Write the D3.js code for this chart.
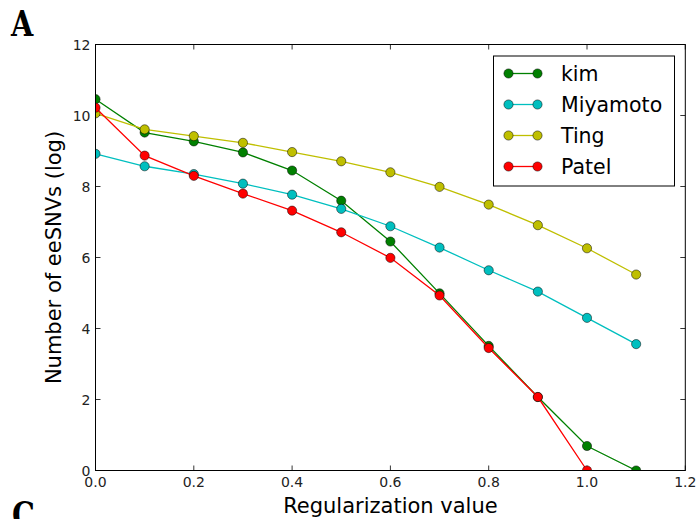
<!DOCTYPE html>
<html><head><meta charset="utf-8">
<script src="https://cdn.jsdelivr.net/npm/d3@7"></script>
<style>body{margin:0;background:#fff;} svg{display:block;}</style>
</head><body>
<script>
const xValues = [0.0,0.1,0.2,0.3,0.4,0.5,0.6,0.7,0.8,0.9,1.0,1.1];
const kim      = [10.46,9.52,9.27,8.96,8.45,7.60,6.45,4.99,3.51,2.07,0.69,0.0];
const miyamoto = [8.92,8.57,8.35,8.08,7.77,7.37,6.88,6.28,5.64,5.04,4.30,3.56];
const ting     = [10.06,9.61,9.42,9.23,8.97,8.71,8.40,7.99,7.49,6.91,6.26,5.52];
const patel    = [10.22,8.87,8.30,7.80,7.32,6.71,5.99,4.93,3.45,2.07,0.0];
const seriesNames = ["kim","Miyamoto","Ting","Patel"];
const seriesColors = ["#008000","#00bfbf","#bfbf00","#ff0000"];
const xTicks = [0.0,0.2,0.4,0.6,0.8,1.0,1.2];
const yTicks = [0,2,4,6,8,10,12];

const W=698,H=519;
const m={l:95.5,t:44.5,r:685.3,b:470.5};
const svg=d3.select("body").append("svg").attr("width",W).attr("height",H);
const x=d3.scaleLinear().domain([0,1.2]).range([m.l,m.r]);
const y=d3.scaleLinear().domain([0,12]).range([m.b,m.t]);
const font="DejaVu Sans";

svg.append("defs").append("clipPath").attr("id","plotclip").append("rect")
  .attr("x",m.l).attr("y",m.t).attr("width",m.r-m.l).attr("height",m.b-m.t);

// ticks (inside, all four sides)
const tl=5;
const g=svg.append("g").attr("stroke","#000").attr("stroke-width",0.8);
xTicks.forEach(v=>{
  g.append("line").attr("x1",x(v)).attr("x2",x(v)).attr("y1",m.b).attr("y2",m.b-tl);
  g.append("line").attr("x1",x(v)).attr("x2",x(v)).attr("y1",m.t).attr("y2",m.t+tl);
});
yTicks.forEach(v=>{
  g.append("line").attr("x1",m.l).attr("x2",m.l+tl).attr("y1",y(v)).attr("y2",y(v));
  g.append("line").attr("x1",m.r).attr("x2",m.r-tl).attr("y1",y(v)).attr("y2",y(v));
});
// tick labels
svg.append("g").selectAll("text").data(xTicks).join("text")
  .attr("x",d=>x(d)).attr("y",m.b+16.5).attr("text-anchor","middle")
  .attr("font-family",font).attr("font-size",14).attr("fill","#222")
  .text(d=>d.toFixed(1));
svg.append("g").selectAll("text").data(yTicks).join("text")
  .attr("x",m.l-5).attr("y",d=>y(d)+5).attr("text-anchor","end")
  .attr("font-family",font).attr("font-size",14).attr("fill","#222")
  .text(d=>d);

// series
const allSeries=[kim,miyamoto,ting,patel];
const line=d3.line().x((d,i)=>x(xValues[i])).y(d=>y(d));
const plot=svg.append("g").attr("clip-path","url(#plotclip)");
allSeries.forEach((s,k)=>{
  plot.append("path").datum(s).attr("d",line).attr("fill","none")
    .attr("stroke",seriesColors[k]).attr("stroke-width",1.3);
  plot.append("g").selectAll("circle").data(s).join("circle")
    .attr("cx",(d,i)=>x(xValues[i])).attr("cy",d=>y(d)).attr("r",4.6)
    .attr("fill",seriesColors[k]).attr("stroke","#000").attr("stroke-width",0.5);
});

// frame
svg.append("rect").attr("x",m.l).attr("y",m.t).attr("width",m.r-m.l).attr("height",m.b-m.t)
  .attr("fill","none").attr("stroke","#000").attr("stroke-width",1);

// legend
const lg=svg.append("g");
lg.append("rect").attr("x",493.5).attr("y",56).attr("width",181).attr("height",130)
  .attr("fill","#fff").attr("stroke","#000").attr("stroke-width",1);
seriesNames.forEach((n,k)=>{
  const yy=73.5+k*31;
  lg.append("line").attr("x1",508.5).attr("x2",537.5).attr("y1",yy).attr("y2",yy)
    .attr("stroke",seriesColors[k]).attr("stroke-width",1.3);
  [508.5,537.5].forEach(cx=>lg.append("circle").attr("cx",cx).attr("cy",yy).attr("r",4.6)
    .attr("fill",seriesColors[k]).attr("stroke","#000").attr("stroke-width",0.5));
  lg.append("text").attr("x",561).attr("y",yy+7).attr("font-family",font).attr("font-size",20.5)
    .attr("fill","#000").text(n);
});

// axis labels
svg.append("text").attr("x",(m.l+m.r)/2).attr("y",513).attr("text-anchor","middle")
  .attr("font-family",font).attr("font-size",21).attr("fill","#000").text("Regularization value");
svg.append("text").attr("transform",`translate(61,${(m.t+m.b)/2}) rotate(-90)`).attr("text-anchor","middle")
  .attr("font-family",font).attr("font-size",21).attr("fill","#000").text("Number of eeSNVs (log)");

// panel letters
svg.append("text").attr("transform","translate(11,36) scale(0.82,1)").attr("font-family","DejaVu Serif").attr("font-weight","bold")
  .attr("font-size",35).attr("fill","#000").text("A");
svg.append("text").attr("transform","translate(12,526.5) scale(0.82,1)").attr("font-family","DejaVu Serif").attr("font-weight","bold")
  .attr("font-size",35).attr("fill","#000").text("C");
</script>
</body></html>
